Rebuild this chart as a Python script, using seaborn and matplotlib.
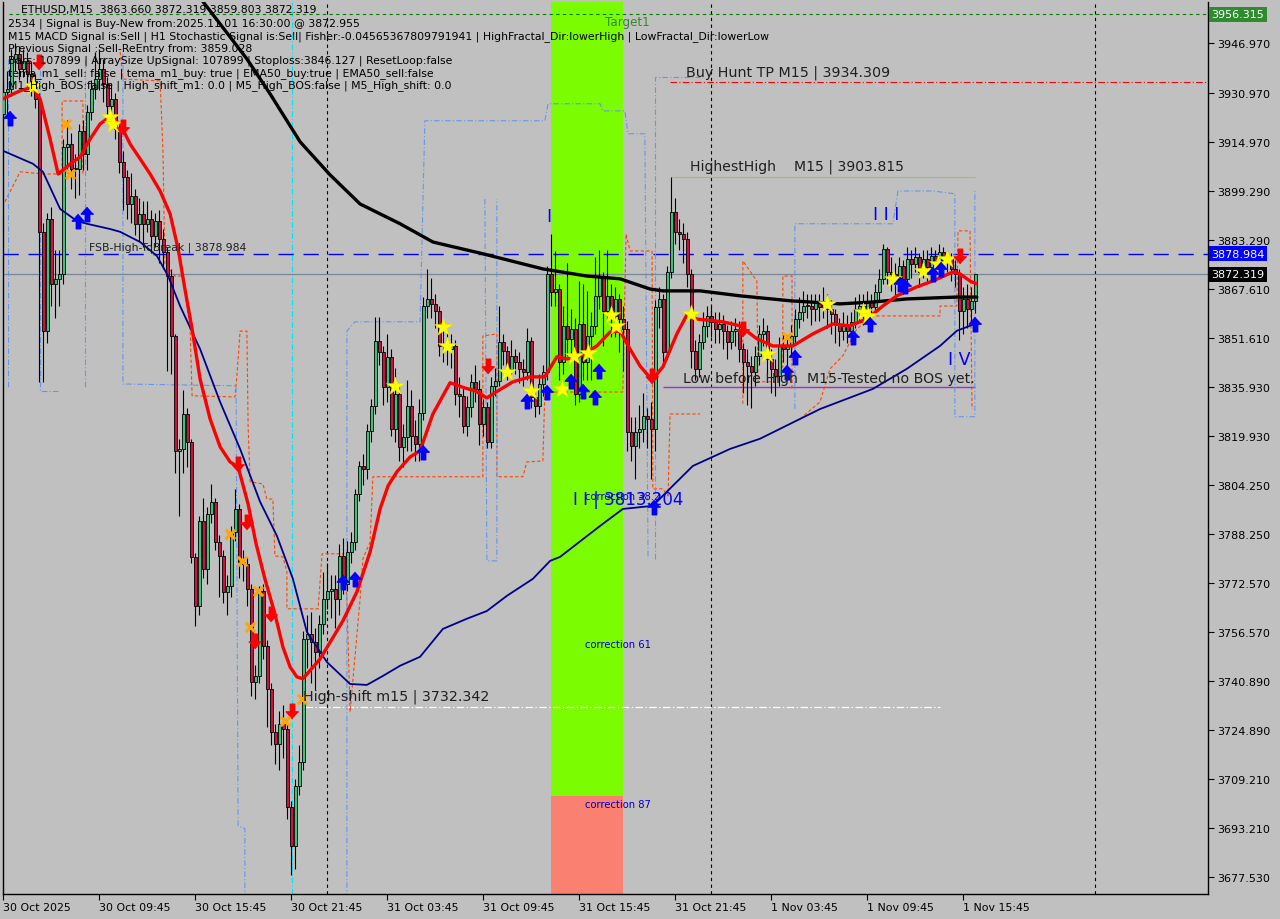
import matplotlib
matplotlib.use("Agg")
import numpy as np
import pandas as pd
import seaborn as sns
import matplotlib.pyplot as plt
import matplotlib.transforms as mtransforms
from matplotlib.patches import Rectangle

# ---------------- data ----------------
first_open = 3924.0
closes = [
3931.2, 3932.2, 3941.9, 3943.5, 3938.7, 3941.3, 3937.1, 3934.8, 3929.0, 3886.0,
3854.0, 3890.2, 3869.2, 3870.8, 3872.4, 3913.5, 3914.4, 3906.3, 3906.3, 3918.6,
3911.2, 3924.8, 3932.2, 3935.4, 3938.7, 3933.8, 3926.7, 3929.0, 3919.3, 3908.6,
3903.8, 3895.0, 3897.6, 3888.6, 3891.8, 3888.6, 3890.2, 3884.7, 3889.5, 3883.7,
3879.5, 3871.7, 3852.3, 3815.2, 3815.8, 3827.1, 3818.1, 3780.9, 3765.1, 3792.5,
3777.0, 3794.8, 3798.7, 3785.7, 3781.2, 3769.6, 3771.5, 3789.0, 3796.4, 3779.3,
3778.6, 3770.6, 3740.5, 3742.4, 3769.9, 3752.1, 3738.2, 3724.3, 3720.4, 3726.9,
3725.3, 3700.1, 3687.5, 3706.9, 3714.6, 3754.4, 3756.0, 3753.4, 3750.2, 3759.2,
3767.3, 3769.9, 3770.6, 3767.3, 3781.2, 3772.2, 3782.5, 3785.7, 3801.3, 3810.3,
3809.3, 3821.6, 3829.7, 3850.7, 3847.2, 3835.9, 3845.6, 3822.3, 3833.6, 3816.5,
3819.7, 3829.7, 3820.0, 3817.4, 3827.5, 3862.0, 3864.3, 3862.7, 3860.4, 3849.1,
3849.8, 3848.1, 3849.1, 3833.6, 3833.0, 3823.3, 3829.4, 3837.5, 3835.2, 3823.9,
3829.4, 3818.1, 3836.2, 3837.8, 3850.4, 3847.5, 3841.7, 3845.9, 3843.9, 3841.7,
3840.7, 3850.7, 3832.6, 3829.7, 3836.8, 3840.7, 3872.4, 3866.6, 3867.5, 3843.9,
3855.6, 3851.4, 3854.6, 3833.6, 3856.2, 3843.9, 3852.3, 3855.6, 3865.3, 3871.4,
3860.4, 3865.3, 3858.8, 3864.3, 3857.8, 3854.6, 3821.3, 3816.8, 3821.3, 3822.3,
3826.5, 3825.5, 3822.3, 3861.7, 3864.3, 3847.2, 3873.0, 3892.4, 3886.0, 3885.3,
3883.7, 3872.4, 3847.5, 3841.7, 3850.4, 3855.6, 3858.8, 3856.9, 3854.6, 3856.2,
3854.0, 3850.4, 3854.0, 3854.6, 3848.1, 3843.9, 3842.6, 3840.7, 3845.9, 3853.0,
3854.0, 3844.9, 3841.7, 3839.4, 3849.1, 3848.1, 3849.1, 3852.3, 3857.8, 3860.1,
3862.0, 3862.0, 3861.1, 3863.3, 3861.7, 3863.7, 3861.1, 3859.5, 3856.2, 3854.0,
3855.6, 3854.0, 3856.9, 3861.1, 3862.0, 3860.1, 3863.3, 3861.7, 3866.6, 3870.8,
3880.5, 3873.0, 3872.4, 3870.1, 3875.0, 3870.8, 3877.2, 3875.6, 3877.9, 3873.0,
3877.2, 3874.7, 3878.2, 3875.6, 3879.5, 3876.3, 3877.9, 3874.0, 3872.4, 3860.4,
3864.3, 3861.1, 3863.66, 3872.319]
highs = [
3934, 3938, 3945, 3947, 3946, 3945, 3944, 3941, 3937, 3931,
3889, 3892, 3894, 3880, 3880, 3916, 3922, 3918, 3911, 3921,
3922, 3927, 3935, 3944, 3945, 3942, 3936, 3934, 3931, 3921,
3912, 3906, 3905, 3900, 3897, 3896, 3896, 3893, 3892, 3893,
3887, 3881, 3874, 3853, 3819, 3835, 3829, 3819, 3782, 3794,
3800, 3797, 3804.5, 3800, 3788, 3783, 3775, 3791, 3803, 3798,
3783, 3781, 3772, 3746, 3771.5, 3772, 3754, 3740, 3727, 3731,
3733, 3727, 3702, 3709, 3720, 3757, 3762, 3763, 3758, 3762,
3776, 3779, 3775, 3775, 3785, 3787, 3786, 3789, 3803, 3812,
3814, 3824, 3832, 3858.5, 3858.5, 3849, 3853, 3848, 3842, 3836,
3824, 3838, 3835, 3825, 3832, 3865, 3874, 3871, 3866, 3862,
3855, 3854, 3853, 3851, 3839, 3836, 3833, 3840, 3843, 3838,
3832, 3831, 3839, 3842, 3862, 3853, 3849, 3851, 3848, 3847,
3845, 3855, 3852, 3834, 3840, 3843, 3875, 3885.3, 3879.8, 3869,
3862, 3876, 3861, 3858, 3870, 3869, 3867, 3860, 3878, 3880,
3873, 3880, 3869, 3868, 3866, 3862, 3857, 3826, 3826, 3830,
3834, 3829, 3831, 3864, 3868, 3866, 3875, 3903.815, 3897, 3890,
3889, 3886, 3874, 3851, 3853, 3860, 3862, 3862, 3860, 3860,
3859, 3856, 3857, 3858, 3857, 3850, 3848, 3846, 3849, 3856,
3858, 3856, 3848, 3845, 3852, 3853, 3852, 3856, 3861, 3865,
3867, 3866, 3866, 3866, 3866, 3868, 3866, 3864, 3861, 3858,
3860, 3859, 3860, 3865, 3866, 3866, 3867, 3866, 3869, 3874,
3882, 3881, 3878, 3876, 3878, 3877, 3881, 3880, 3881, 3879,
3880, 3880, 3881, 3880, 3882, 3881, 3880, 3879, 3877, 3874,
3868, 3869, 3868, 3872.319]
lows = [
3922, 3924, 3930, 3938, 3935, 3936, 3933, 3930, 3926, 3837.5,
3837.5, 3850, 3862, 3858, 3862, 3869, 3905, 3900, 3897, 3898,
3906, 3906, 3922, 3929, 3932, 3928, 3922, 3920, 3916, 3905,
3893, 3890, 3889, 3885, 3883, 3881, 3886, 3879, 3881, 3876,
3874, 3841, 3840, 3808, 3794, 3808, 3810, 3779, 3758.6, 3762,
3774, 3772, 3792, 3783, 3768, 3766, 3762, 3768, 3786, 3774,
3773, 3765, 3736, 3735, 3740, 3748, 3726, 3720, 3714, 3712,
3716, 3696, 3678.2, 3680, 3704, 3712, 3745, 3740, 3738, 3745,
3756, 3764, 3761, 3758, 3762, 3769, 3770, 3779, 3783, 3799,
3804, 3806, 3818, 3827, 3843, 3830, 3831, 3820, 3818, 3812,
3810, 3815, 3815, 3812, 3812, 3825, 3858, 3858, 3855, 3846,
3844, 3843, 3842, 3830, 3826, 3821, 3820, 3826, 3831, 3817,
3820, 3816, 3816, 3833, 3836, 3843, 3838, 3840, 3840, 3837,
3836, 3838, 3829, 3826, 3827, 3833, 3838, 3862, 3862, 3838,
3840, 3846, 3846, 3830, 3831, 3838, 3838, 3838, 3853, 3861,
3849, 3857, 3852, 3852, 3847, 3841, 3815, 3812, 3806, 3816,
3818, 3816, 3806, 3815, 3855, 3843, 3845, 3871, 3882, 3880,
3876, 3868, 3842, 3838, 3839, 3848, 3852, 3852, 3850, 3850,
3848, 3845, 3848, 3849, 3844, 3834, 3830, 3829, 3836, 3843,
3849, 3840, 3834, 3833, 3836, 3844, 3843, 3846, 3850, 3855,
3857, 3858, 3856, 3857, 3857, 3858, 3855, 3853, 3850, 3849,
3851, 3850, 3851, 3855, 3857, 3856, 3858, 3857, 3860, 3864,
3869, 3869, 3867, 3865, 3868, 3866, 3868, 3871, 3873, 3868,
3871, 3870, 3872, 3871, 3873, 3872, 3873, 3870, 3868, 3851,
3853, 3855, 3857, 3859.803]

# moving-average style indicator lines: (bar position, price)
red_x = [-0.1, 4.2, 7.4, 9.2, 11.7, 13.7, 16.7, 19.2, 21.7, 24.2, 26.7, 29.2, 31.7, 34.2,
         36.7, 39.2, 41.7, 43.7, 45.4, 47.2, 49.2, 51.7, 54.2, 56.7, 58.7, 61.2, 63.2,
         65.4, 67.9, 69.9, 71.7, 73.4, 74.9, 79.2, 84.9, 88.4, 91.7, 94.2, 96.2, 98.4,
         101.7, 104.2, 107.4, 111.7, 115.4, 117.9, 120.9, 123.7, 127.4, 131.7, 135.4,
         138.4, 140.9, 144.2, 148.4, 151.7, 154.2, 156.7, 159.2, 162.2, 164.9, 168.4,
         170.9, 173.4, 179.9, 184.2, 188.4, 192.4, 197.4, 202.4, 207.4, 211.7, 215.9,
         219.9, 223.4, 228.4, 232.4, 237.4, 239.2, 241.7, 243.2]
red_y = [3929.0, 3931.6, 3932.8, 3929.0, 3916.0, 3904.7, 3907.9, 3910.2, 3916.0, 3920.9,
         3923.2, 3920.9, 3914.4, 3909.6, 3904.7, 3899.2, 3891.8, 3880.5, 3867.5, 3854.6,
         3838.4, 3825.5, 3816.5, 3811.6, 3810.0, 3798.0, 3785.1, 3773.8, 3762.5, 3751.8,
         3745.3, 3742.1, 3741.5, 3747.9, 3760.2, 3769.6, 3782.5, 3796.4, 3803.9, 3808.4,
         3813.2, 3815.2, 3827.1, 3837.2, 3835.5, 3834.6, 3832.3, 3834.6, 3837.5, 3839.1,
         3839.1, 3845.6, 3844.9, 3845.9, 3849.1, 3853.6, 3853.9, 3848.1, 3842.6, 3838.1,
         3842.3, 3853.0, 3859.1, 3857.8, 3856.9, 3855.6, 3851.4, 3849.1, 3849.1, 3853.0,
         3856.2, 3855.6, 3857.8, 3862.0, 3865.3, 3868.2, 3870.1, 3873.0, 3872.4, 3870.1,
         3869.2]
black_x = [44.2, 49.4, 60.9, 66.7, 74.2, 81.7, 89.2, 99.2, 107.4, 119.9, 134.9, 145.9,
           154.2, 161.7, 164.9, 174.2, 184.2, 196.7, 209.2, 217.4, 225.9, 238.4, 243.4]
black_y = [3969.4, 3961.3, 3941.9, 3930.6, 3915.1, 3904.4, 3895.0, 3888.6, 3882.7, 3878.9,
           3874.0, 3871.7, 3870.8, 3867.5, 3866.9, 3866.9, 3865.3, 3863.7, 3862.7, 3863.3,
           3864.3, 3864.9, 3864.9]
navy_x = [-0.1, 7.4, 9.9, 14.2, 18.4, 20.9, 26.7, 29.2, 34.2, 38.4, 41.2, 44.2, 49.2, 54.2,
          59.2, 64.2, 68.4, 72.4, 75.9, 80.9, 86.7, 90.9, 94.9, 99.2, 104.2, 109.9, 115.9,
          120.9, 125.9, 132.4, 136.7, 139.2, 149.2, 154.9, 162.4, 167.4, 172.4, 181.7,
          189.2, 196.7, 204.2, 217.4, 225.9, 234.2, 238.4, 242.9]
navy_y = [3912.2, 3908.0, 3905.4, 3893.4, 3889.5, 3888.6, 3886.9, 3886.0, 3882.7, 3878.2,
          3871.7, 3862.0, 3848.1, 3831.0, 3815.8, 3798.7, 3787.7, 3773.8, 3756.6, 3746.9,
          3739.8, 3739.5, 3742.4, 3745.7, 3748.6, 3757.6, 3760.9, 3763.4, 3768.3, 3773.8,
          3779.6, 3780.9, 3790.9, 3796.4, 3797.4, 3803.9, 3810.3, 3815.8, 3819.1, 3823.9,
          3828.7, 3835.2, 3841.7, 3849.1, 3854.0, 3856.2]

# stepped envelope lines (orange dashed) : list of (bars, prices)
orange_paths = [
    ([0.4, 4.2, 9.9, 14.7, 14.7, 19.9, 19.9],
     [3895.7, 3905.4, 3904.7, 3904.7, 3928.3, 3928.3, 3904.7]),
    ([29.2, 29.9, 39.2, 39.9, 40.4, 42.9, 44.9, 46.7, 47.2, 57.9, 58.4, 59.2, 60.9, 61.2,
      61.7, 64.9, 65.9, 67.4, 67.9, 69.9, 70.9, 70.9, 78.7, 79.7, 84.9, 85.9, 86.7, 89.2,
      89.9, 91.7, 92.4, 119.9, 119.9, 123.4, 123.4, 129.9, 130.9, 134.9, 135.4, 154.9,
      155.7, 156.7, 162.2, 162.4, 164.9, 166.2, 166.7, 174.2],
     [3944.2, 3935.4, 3934.8, 3912.8, 3875.6, 3871.7, 3871.7, 3854.6, 3833.0, 3832.6,
      3839.4, 3853.9, 3853.9, 3823.3, 3805.2, 3804.5, 3799.6, 3799.6, 3781.2, 3780.9,
      3776.1, 3764.1, 3764.1, 3781.9, 3781.9, 3767.3, 3730.8, 3767.3, 3780.3, 3785.7,
      3806.8, 3806.8, 3852.3, 3853.0, 3806.8, 3806.8, 3811.6, 3811.9, 3834.2, 3834.2,
      3885.3, 3879.8, 3879.8, 3802.9, 3802.9, 3800.6, 3827.1, 3827.1]),
    ([184.9, 184.9, 188.4, 188.7, 192.9, 194.9, 194.9, 197.2, 197.2],
     [3830.4, 3876.6, 3870.1, 3837.5, 3837.5, 3842.6, 3871.7, 3871.7, 3835.2]),
    ([199.2, 204.2, 206.7, 209.9, 213.4, 217.4, 234.2, 234.2, 238.4, 238.7, 241.7, 242.2],
     [3825.5, 3831.0, 3841.7, 3845.9, 3854.6, 3858.8, 3858.8, 3862.0, 3862.0, 3886.3,
      3886.3, 3828.7]),
]
# stepped band lines (light blue dash-dot)
blue_paths = [
    ([1.2, 1.2], [3941.9, 3835.2]),
    ([9.2, 9.2, 13.7], [3941.9, 3834.6, 3834.6]),
    ([20.4, 20.4], [3941.9, 3835.2]),
    ([29.9, 29.9, 58.2, 58.7, 60.4, 60.4],
     [3943.5, 3836.8, 3836.2, 3693.9, 3693.0, 3670.3]),
    ([85.9, 85.9, 87.9, 104.2, 105.4, 135.4, 136.2, 149.2, 149.9, 155.4, 156.2, 160.4,
      161.2],
     [3670.3, 3853.9, 3856.9, 3856.9, 3921.9, 3921.9, 3927.4, 3927.4, 3925.1, 3925.1,
      3917.7, 3917.7, 3780.3]),
    ([120.4, 120.9, 123.4, 123.4], [3896.6, 3779.6, 3779.6, 3896.6]),
    ([162.9, 162.9, 174.2], [3780.3, 3936.1, 3936.1]),
    ([197.9, 197.9, 222.4, 223.7, 232.4, 237.9, 237.9, 242.9, 242.9],
     [3828.7, 3888.6, 3888.6, 3899.2, 3899.2, 3898.3, 3826.2, 3826.2, 3899.9]),
]

# signal markers (bar position, price)
up_x = [1.7, 18.7, 20.9, 84.9, 87.9, 104.9, 130.9, 135.9, 141.9, 144.9, 147.9, 148.9, 162.7,
        195.9, 197.9, 212.4, 216.7, 224.2, 225.4, 232.4, 234.4, 243.0]
up_y = [3922.8, 3889.5, 3891.8, 3772.8, 3773.8, 3814.8, 3831.3, 3834.2, 3837.8, 3834.6,
        3832.6, 3841.0, 3797.1, 3840.7, 3845.6, 3852.0, 3856.2, 3869.2, 3868.5, 3872.4,
        3874.0, 3856.2]
down_x = [8.9, 29.9, 58.7, 60.9, 66.9, 62.9, 72.2, 121.2, 162.2, 184.9, 239.2]
down_y = [3940.9, 3919.9, 3810.9, 3792.2, 3762.5, 3753.7, 3731.1, 3842.6, 3839.4, 3854.6,
          3878.2]
star_x = [7.4, 26.7, 27.4, 98.0, 109.9, 110.9, 125.9, 131.9, 139.7, 142.7, 146.2, 151.9,
          153.2, 171.9, 190.9, 205.9, 214.9, 216.2, 222.4, 229.9, 233.7, 235.9]
star_y = [3933.2, 3923.2, 3920.9, 3836.2, 3855.3, 3849.1, 3840.7, 3834.6, 3835.2, 3845.9,
          3846.9, 3859.1, 3855.6, 3859.5, 3846.5, 3862.7, 3860.1, 3858.8, 3870.8, 3873.4,
          3875.6, 3877.2]
cross_x = [15.7, 16.7, 56.7, 59.7, 63.7, 61.7, 70.4, 74.7, 195.9]
cross_y = [3920.9, 3904.7, 3788.3, 3779.6, 3769.9, 3758.3, 3727.9, 3735.0, 3852.0]

# levels
target1 = 3956.315
fsb_high = 3878.984
bid = 3872.319
buy_tp = 3934.309
highest_high = 3903.815
low_before_high = 3835.8
high_shift = 3732.342
zone_split = 3703.6

y_ticks = [3946.970, 3930.970, 3914.970, 3899.290, 3883.290, 3867.610, 3851.610, 3835.930,
           3819.930, 3804.250, 3788.250, 3772.570, 3756.570, 3740.890, 3724.890, 3709.210,
           3693.210, 3677.530]
x_tick_bars = [0, 24, 48, 72, 96, 120, 144, 168, 192, 216, 240]
x_tick_labels = ["30 Oct 2025", "30 Oct 09:45", "30 Oct 15:45", "30 Oct 21:45", "31 Oct 03:45",
                 "31 Oct 09:45", "31 Oct 15:45", "31 Oct 21:45", "1 Nov 03:45", "1 Nov 09:45",
                 "1 Nov 15:45"]
day_separators = [81, 177, 273]

info_lines = [
    "2534 | Signal is Buy-New from:2025.11.01 16:30:00 @ 3872.955",
    "M15 MACD Signal is:Sell | H1 Stochastic Signal is:Sell| Fisher:-0.04565367809791941 | HighFractal_Dir:lowerHigh | LowFractal_Dir:lowerLow",
    "Previous Signal :Sell-ReEntry from: 3859.028",
    "Bars: 107899 | ArraySize UpSignal: 107899 | Stoploss:3846.127 | ResetLoop:false",
    "tema_m1_sell: false | tema_m1_buy: true | EMA50_buy:true | EMA50_sell:false",
    "M1_High_BOS:false | High_shift_m1: 0.0 | M5_High_BOS:false | M5_High_shift: 0.0",
]

# ---------------- figure ----------------
BG = "#C0C0C0"
sns.set_style("white", rc={"axes.facecolor": BG, "figure.facecolor": BG})
plt.rcParams["font.family"] = ["DejaVu Sans"]

W, H = 1280, 920
fig = plt.figure(figsize=(W / 100, H / 100), dpi=100)
ax = fig.add_axes([3 / W, 25 / H, 1205 / W, 892 / H])
ax.set_facecolor(BG)
X0, X1 = -0.08, 301.2
Y0, Y1 = 3671.9, 3960.3
ax.set_xlim(X0, X1)
ax.set_ylim(Y0, Y1)

# zones
ax.add_patch(Rectangle((136.9, zone_split), 18.0, Y1 - zone_split + 5, facecolor="#7CFC00",
                       edgecolor="none", zorder=0.5))
ax.add_patch(Rectangle((136.9, Y0 - 5), 18.0, zone_split - Y0 + 5, facecolor="#FA8072",
                       edgecolor="none", zorder=0.5))

# vertical separators
for b in day_separators:
    ax.axvline(b, color="black", lw=0.8, ls=(0, (3, 3)), zorder=1)
ax.axvline(72.2, color="#00E5EE", lw=0.8, ls=(0, (5, 2, 1, 2)), zorder=1)

# stepped bands
for bx, by in orange_paths:
    ax.plot(bx, by, color="#FF4500", lw=0.8, ls=(0, (3, 2)), zorder=1.5)
for bx, by in blue_paths:
    ax.plot(bx, by, color="#6495ED", lw=0.8, ls=(0, (5, 2, 1, 2)), zorder=1.5)

# horizontal levels
ax.axhline(target1, xmin=0.005, color="#008000", lw=0.8, ls=(0, (3, 3)), zorder=1)
ax.axhline(fsb_high, color="#0000FF", lw=1.0, ls=(0, (11, 7)), zorder=1)
ax.axhline(bid, color="#778899", lw=0.9, zorder=1)
ax.hlines(buy_tp, 166.7, X1, color="#FF0000", lw=0.8, ls=(0, (6, 2, 1, 2)), zorder=1)
ax.hlines(highest_high, 166.9, 242.9, color="#9ACD32", lw=0.8, zorder=1)
ax.hlines(low_before_high, 164.9, 242.9, color="#9932CC", lw=1.0, zorder=1)
ax.hlines(high_shift, 75.4, 234.2, color="white", lw=0.9, ls=(0, (6, 2, 1, 2)), zorder=1)

# candles
idx = np.arange(len(closes))
c = np.array(closes)
o = np.array([first_open] + closes[:-1])
h = np.maximum(np.array(highs, dtype=float), np.maximum(o, c))
l = np.minimum(np.array(lows, dtype=float), np.minimum(o, c))
df = pd.DataFrame({"bar": idx, "open": o, "high": h, "low": l, "close": c})
ax.vlines(df["bar"], df["low"], df["high"], color="black", lw=0.8, zorder=2)
up = df["close"] >= df["open"]
body = (df["close"] - df["open"]).abs().clip(lower=0.35)
bottom = np.minimum(df["open"], df["close"])
ax.bar(df["bar"][up], body[up], bottom=bottom[up], width=0.72, color="#3CC07A",
       edgecolor="black", linewidth=0.6, zorder=3)
ax.bar(df["bar"][~up], body[~up], bottom=bottom[~up], width=0.72, color="#C8143C",
       edgecolor="black", linewidth=0.6, zorder=3)

# indicator lines
sns.lineplot(x=navy_x, y=navy_y, ax=ax, color="#00008B", lw=1.3, sort=False,
             estimator=None, zorder=4)
sns.lineplot(x=black_x, y=black_y, ax=ax, color="black", lw=2.4, sort=False,
             estimator=None, zorder=4)
sns.lineplot(x=red_x, y=red_y, ax=ax, color="#FF0000", lw=2.4, sort=False,
             estimator=None, zorder=5)

# markers
arrow_up = [(0, 1.0), (-0.85, 0.05), (-0.3, 0.05), (-0.3, -1.0), (0.3, -1.0), (0.3, 0.05),
            (0.85, 0.05)]
arrow_dn = [(x, -y) for x, y in arrow_up]
ax.scatter(star_x, star_y, marker="*", s=190, color="#FFFF00", edgecolors="#E0E000",
           linewidths=0.3, zorder=6)
ax.scatter(up_x, up_y, marker=arrow_up, s=110, color="#0000FF", zorder=6)
ax.scatter(down_x, down_y, marker=arrow_dn, s=110, color="#FF0000", zorder=6)
ax.scatter(cross_x, cross_y, marker="x", s=45, color="#FFA500", linewidths=2.2, zorder=6)

# annotations
TXT = "#202020"
ax.text(21.4, fsb_high + 0.4, "FSB-High-ToBreak | 3878.984", fontsize=7.85, va="bottom",
        ha="left", color=TXT, zorder=7)
ax.text(170.7, buy_tp + 1.2, "Buy Hunt TP M15 | 3934.309", fontsize=10.3, va="bottom",
        ha="left", color=TXT, zorder=7)
ax.text(171.7, highest_high + 1.2, "HighestHigh    M15 | 3903.815", fontsize=10.1,
        va="bottom", ha="left", color=TXT, zorder=7)
ax.text(169.9, low_before_high + 0.6, "Low before High  M15-Tested no BOS yet.",
        fontsize=10.2, va="bottom", ha="left", color=TXT, zorder=7)
ax.text(74.9, high_shift + 1.3, "High-shift m15 | 3732.342", fontsize=10.3, va="bottom",
        ha="left", color=TXT, zorder=7)
ax.text(150.4, 3953.9, "Target1", fontsize=8.6, va="center", ha="left", color="#2E8B2E",
        zorder=7)
ax.text(145.4, 3800.6, "correction 38.2", fontsize=7.2, va="center", ha="left",
        color="#0000CC", zorder=7)
ax.text(145.4, 3752.8, "correction 61", fontsize=7.2, va="center", ha="left",
        color="#0000CC", zorder=7)
ax.text(145.4, 3701.0, "correction 87", fontsize=7.2, va="center", ha="left",
        color="#0000CC", zorder=7)
ax.text(142.4, 3799.6, "I I | 3813.204", fontsize=12.0, va="center", ha="left",
        color="#0000FF", zorder=7)
ax.text(135.7, 3891.0, "I", fontsize=12.5, va="center", ha="left", color="#0000FF", zorder=7)
ax.text(217.4, 3891.8, "I I I", fontsize=12.5, va="center", ha="left", color="#0000FF",
        zorder=7)
ax.text(236.2, 3845.0, "I V", fontsize=12.5, va="center", ha="left", color="#0000FF",
        zorder=7)

# axes styling
ax.spines["top"].set_visible(False)
for s in ["left", "right", "bottom"]:
    ax.spines[s].set_color("black")
    ax.spines[s].set_linewidth(1.0)
ax.yaxis.tick_right()
ax.set_yticks(y_ticks)
ax.set_yticklabels([f"{v:.3f}" for v in y_ticks])
ax.tick_params(axis="y", direction="out", length=4, width=0.8, labelsize=8.0, pad=2.5,
               colors="black", right=True, left=False)
ax.set_xticks(x_tick_bars)
ax.set_xticklabels(x_tick_labels, ha="left")
ax.tick_params(axis="x", direction="out", length=4, width=0.8, labelsize=7.9, pad=2,
               colors="black", bottom=True)
ax.grid(False)
ax.set_xlabel("")
ax.set_ylabel("")

# price boxes on the right scale
trans = mtransforms.blended_transform_factory(ax.transAxes, ax.transData)
for val, fc in [(target1, "#2E8B2E"), (fsb_high, "#0000FF"), (bid, "#000000")]:
    ax.text(1.003, val, f"{val:.3f}", transform=trans, fontsize=8.0, color="white",
            va="center", ha="left", clip_on=False, zorder=8,
            bbox=dict(boxstyle="square,pad=0.22", facecolor=fc, edgecolor="none"))

# info text block
fig.text(21 / W, 1 - 10 / H, "ETHUSD,M15  3863.660 3872.319 3859.803 3872.319",
         fontsize=7.8, va="center", ha="left", color="black")
for k, line in enumerate(info_lines):
    fig.text(8 / W, 1 - (24 + 12.3 * k) / H, line, fontsize=7.8, va="center", ha="left",
             color="black")

fig.savefig("out.png", dpi=100, facecolor=BG)
